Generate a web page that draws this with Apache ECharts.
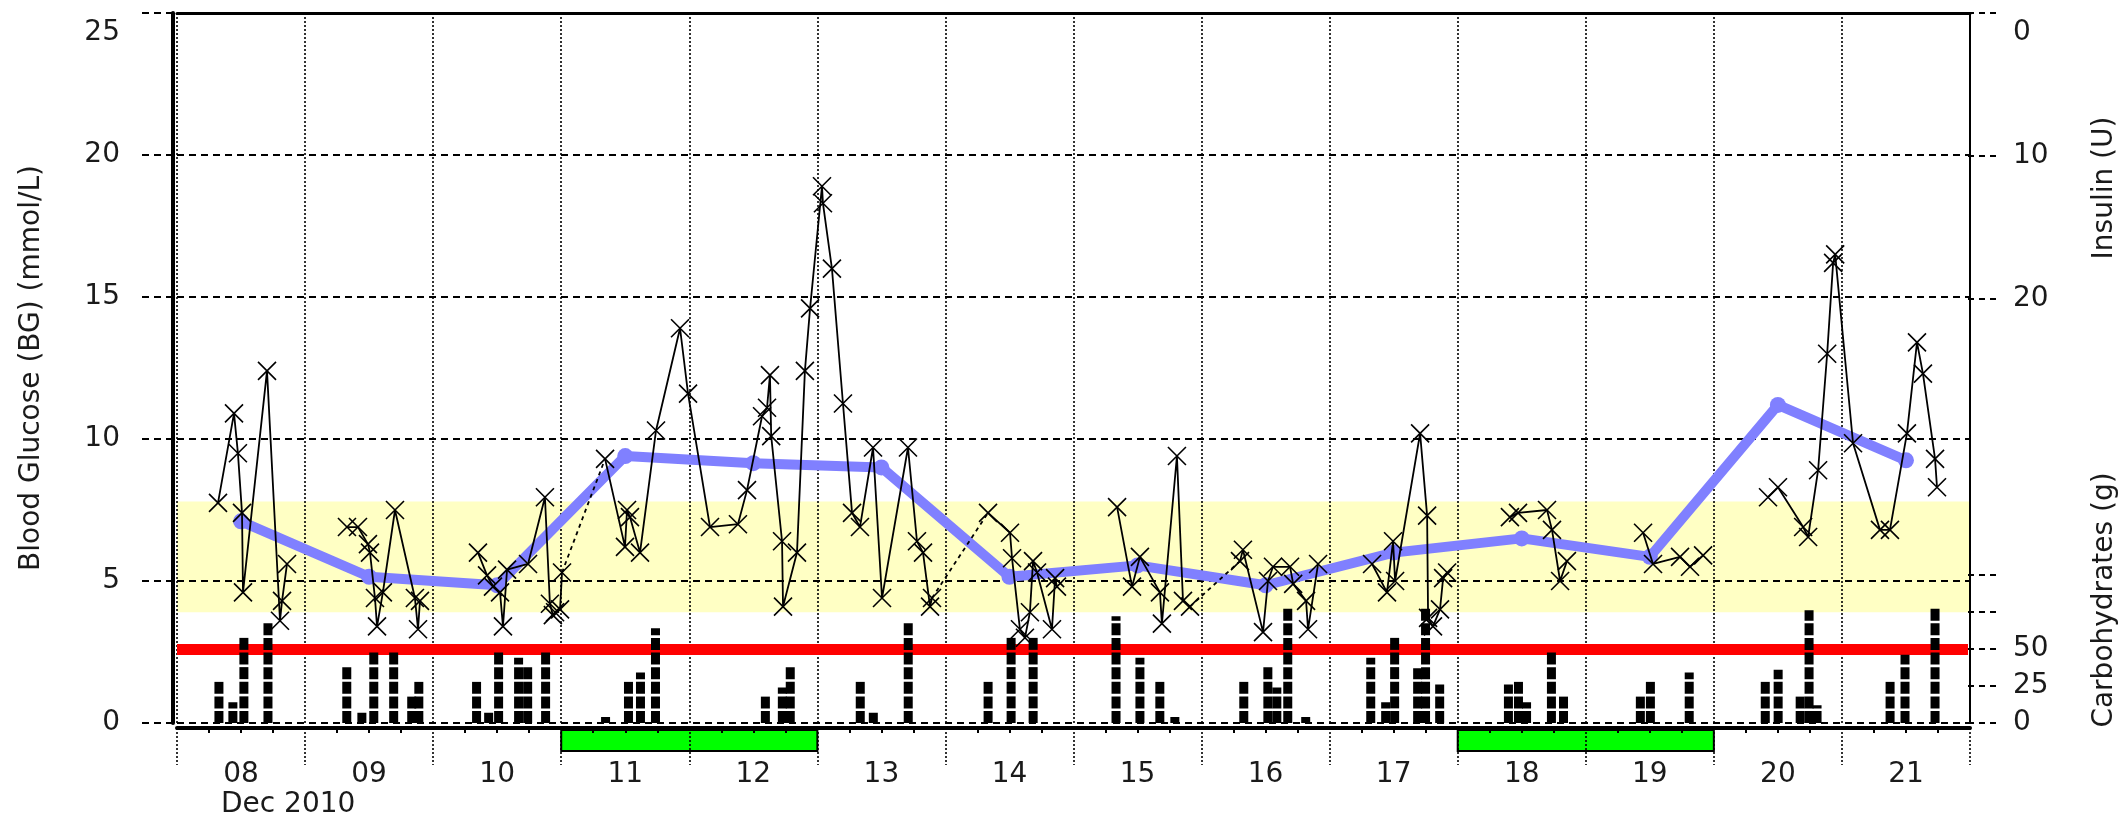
<!DOCTYPE html>
<html><head><meta charset="utf-8">
<script src="https://cdn.jsdelivr.net/npm/echarts@6/dist/echarts.min.js"></script>
<style>html,body{margin:0;padding:0;background:#fff}#c{width:2127px;height:823px}</style>
</head><body><div id="c"></div>
<script>
// ---------- data ----------
const dayLabels = ['08','09','10','11','12','13','14','15','16','17','18','19','20','21'];
const monthLabel = 'Dec 2010';
// blood glucose readings ("DD HH:MM", December 2010); null = gap in the line
const bgTimes = [
'08 07:41','08 10:41','08 11:25','08 12:11','08 12:22','08 16:52','08 19:18','08 19:41','08 20:37', null,
'09 07:51','09 09:55','09 11:47','09 12:10','09 13:06','09 13:29','09 14:35','09 16:51','09 20:35','09 21:10','09 21:32', null,
'10 08:24','10 10:06','10 11:13','10 12:32','10 13:05','10 13:51','10 17:47','10 20:57','10 21:53','10 22:26','10 22:51','10 23:47','11 00:09',
'11 08:13','11 11:57','11 12:20','11 12:53','11 14:46','11 17:46','11 22:16','11 23:46',
'12 03:53','12 09:07','12 10:49','12 13:38','12 14:34','12 15:07','12 15:21','12 17:23','12 17:34','12 20:11','12 21:40','12 22:38',
'13 00:52','13 01:03','13 02:44','13 04:48','13 06:30','13 07:59','13 10:26','13 12:07','13 16:59','13 18:40','13 19:48','13 21:07','13 21:29',
'14 07:59','14 12:06','14 12:29','14 13:58','14 14:54','14 15:50','14 16:25','14 17:10','14 19:58','14 20:33','14 20:54', null,
'15 08:10','15 10:58','15 12:27','15 16:12','15 16:34','15 19:23','15 20:31','15 21:50',
'16 07:12','16 07:45','16 11:31','16 12:27','16 13:23','16 16:35','16 17:10','16 19:35','16 19:57','16 21:50', null,
'17 07:57','17 10:45','17 11:53','17 12:16','17 16:57','17 18:16','17 18:27','17 19:22','17 20:41','17 21:16','17 22:01', null,
'18 09:47','18 11:18','18 16:44','18 17:40','18 19:11','18 20:28', null,
'19 10:44','19 12:36','19 17:40','19 19:32','19 21:59', null,
'20 10:09','20 12:01','20 16:44','20 17:40','20 19:32','20 21:14','20 22:21','20 22:44',
'21 02:05','21 07:08','21 09:00','21 12:11','21 14:04','21 15:11','21 17:27','21 17:49'
];
const bgValues = [
7.75,10.9,9.5,7.4,4.6,12.4,3.6,4.3,5.6,null,
6.9,6.9,6.3,6.0,4.4,3.4,4.6,7.5,4.4,3.3,4.3,null,
6.0,5.2,4.8,4.6,3.4,5.4,5.6,7.95,4.2,3.8,3.9,4.0,5.3,
9.3,6.2,7.5,7.25,6.0,10.3,13.9,11.6,
6.9,7.0,8.2,10.8,11.1,12.25,10.1,6.4,4.1,6.0,12.4,14.6,
18.9,18.3,16.0,11.25,7.4,6.9,9.7,4.4,9.7,6.4,6.0,4.1,4.4,
7.4,6.7,5.8,3.3,3.0,3.9,5.7,5.3,3.3,5.1,4.8,null,
7.6,4.8,5.85,4.6,3.5,9.4,4.3,4.1,
5.7,6.1,3.2,5.0,5.5,5.5,4.9,4.3,3.3,5.6,null,
5.6,4.6,6.4,5.0,10.2,7.3,3.7,3.4,4.0,5.1,5.3,null,
7.25,7.4,7.5,6.8,5.0,5.7,null,
6.7,5.6,5.85,5.5,5.9,null,
7.95,8.3,6.9,6.55,8.9,13.0,16.2,16.5,
9.85,6.8,6.8,10.2,13.4,12.3,9.3,8.3
];
// readings whose joining segment to the next reading is drawn dashed (overnight joins)
const dashedJoins = ['11 00:09','13 21:29','15 21:50'];
// daily average BG
const avgTimes = ['08 12:00','09 12:00','10 12:00','11 12:00','12 12:00','13 12:00','14 12:00','15 12:00','16 12:00','17 12:00','18 12:00','19 12:00','20 12:00','21 12:00'];
const avgValues = [7.1,5.15,4.85,9.4,9.15,9.0,5.15,5.55,4.85,6.0,6.5,5.85,11.2,9.25];
// carbohydrates (g)
const carbTimes = ['08 07:52','08 10:29','08 12:33','08 17:04','09 07:51','09 10:41','09 12:55','09 16:39','09 20:02','09 21:22',
'10 08:12','10 10:28','10 12:20','10 16:05','10 17:47','10 21:09','11 08:24','11 12:42','11 14:57','11 17:46',
'12 14:23','12 17:34','12 19:03','13 08:11','13 10:38','13 17:11','14 08:10','14 12:29','14 16:37',
'15 08:10','15 12:39','15 16:23','15 19:12','16 08:08','16 12:39','16 14:20','16 16:23','16 19:45',
'17 07:57','17 10:45','17 12:26','17 16:45','17 18:14','17 20:53','18 09:47','18 11:40','18 13:11','18 17:51','18 20:07',
'19 10:32','19 12:25','19 19:42','20 09:58','20 12:23','20 16:31','20 18:11','20 19:41','21 09:23','21 12:11','21 17:49'];
const carbValues = [28,14,58,68, 38,7,48,48,18,28, 28,7,48,44,38,48, 4,28,34,64, 18,24,38, 28,7,68, 28,58,58,
72,44,28,4, 28,38,24,78,4, 44,14,58,37,78,26, 26,28,14,48,18, 18,28,34, 28,36,18,76,12, 28,46,78];
const weekendStarts = ['11','18'];
const weekendLength = 2;
const targetRange = [3.9, 7.8];
const carbRefLine = 50;
const insulinTicks = [0,10,20];
const carbTickMarks = [0,25,50,75,100];
const carbTickLabels = [0,25,50];

// ---------- helpers ----------
const FIRST_DAY = 8;
function toDay(s){ // 'DD HH:MM' -> days since Dec 08 00:00
  const dd = parseInt(s.slice(0,2),10), hh = parseInt(s.slice(3,5),10), mm = parseInt(s.slice(6,8),10);
  return (dd - FIRST_DAY) + (hh*60+mm)/1440;
}
const bgSolid = [], bgDashed = [];
bgTimes.forEach((t,i)=>{
  if (t===null){ bgSolid.push(['-','-']); return; }
  const p = [toDay(t), bgValues[i]];
  bgSolid.push(p);
  if (dashedJoins.indexOf(t) >= 0 && bgTimes[i+1]){
    bgSolid.push(['-','-']);
    bgDashed.push(p, [toDay(bgTimes[i+1]), bgValues[i+1]], ['-','-']);
  }
});
const avgData = avgTimes.map((t,i)=> [toDay(t), avgValues[i]]);
const carbData = carbTimes.map((t,i)=> [toDay(t), carbValues[i]]);
const nDays = dayLabels.length;
const labelPos = dayLabels.map((d,i)=> i+0.5);

const FONT = 'DejaVu Sans';
const TXT = '#1a1a1a';
const L = 177, R = 157;
const hiddenX = (g)=>({type:'value', gridIndex:g, min:0, max:nDays, show:false});
const xCross = 'path://M0,0L10,10M10,0L0,10';
const richTop = {top:{fontSize:28, fontFamily:FONT, color:TXT, padding:[40,0,0,0]}};

const chart = echarts.init(document.getElementById('c'), null, {renderer:'canvas'});
chart.setOption({
  animation:false,
  backgroundColor:'#fff',
  textStyle:{fontFamily:FONT},
  title:{text:monthLabel, left:221, top:791, padding:0,
    textStyle:{fontSize:28, fontWeight:'normal', fontFamily:FONT, color:TXT}},
  grid:[
    {left:L, right:R, top:13, height:710},   // BG
    {left:L, right:R, top:13, height:350},   // insulin
    {left:L, right:R, top:477, height:246},  // carbs
    {left:L, right:R, top:730, height:21}    // weekends
  ],
  xAxis:[
    {type:'value', gridIndex:0, min:0, max:nDays, interval:1, offset:5, position:'bottom',
      axisLine:{show:true, onZero:false, lineStyle:{color:'#000', width:4}},
      axisTick:{show:true, length:37, lineStyle:{color:'#000', width:1.6, type:[2,2]}},
      minorTick:{show:true, splitNumber:4, length:5, lineStyle:{color:'#000', width:2}},
      splitLine:{show:true, lineStyle:{color:'#000', width:1.6, type:[2,2]}},
      axisLabel:{customValues:labelPos, formatter:(v)=>dayLabels[Math.floor(v)], margin:33,
        fontSize:28, fontFamily:FONT, color:TXT}},
    {type:'value', gridIndex:0, min:0, max:nDays, position:'top',
      axisLine:{show:true, onZero:false, lineStyle:{color:'#000', width:3}},
      axisTick:{show:false}, axisLabel:{show:false}, splitLine:{show:false}},
    hiddenX(1), hiddenX(2), hiddenX(3)
  ],
  yAxis:[
    {type:'value', gridIndex:0, min:0, max:25, interval:5, position:'left', offset:4,
      axisLine:{show:true, onZero:false, lineStyle:{color:'#000', width:4}},
      axisTick:{show:true, length:36, lineStyle:{color:'#000', width:2, type:[7,5]}},
      splitLine:{show:true, lineStyle:{color:'#000', width:2, type:[7,5]}},
      axisLabel:{margin:53, fontSize:28, fontFamily:FONT, color:TXT,
        formatter:(v)=> v===25 ? '{top|25}' : String(v), rich:richTop},
      name:'Blood Glucose (BG) (mmol/L)', nameLocation:'middle', nameRotate:90, nameGap:127,
      nameTextStyle:{fontSize:28, fontFamily:FONT, color:TXT}},
    {type:'value', gridIndex:0, min:0, max:25, position:'right',
      axisLine:{show:true, onZero:false, lineStyle:{color:'#000', width:2}},
      axisTick:{show:false}, axisLabel:{show:false}, splitLine:{show:false}},
    {type:'value', gridIndex:1, min:0, max:24.5, inverse:true, position:'right',
      axisLine:{show:false, onZero:false},
      axisTick:{show:true, customValues:insulinTicks, length:32, lineStyle:{color:'#000', width:2, type:[6,5]}},
      axisLabel:{customValues:insulinTicks, margin:45, fontSize:28, fontFamily:FONT, color:TXT,
        formatter:(v)=> v===0 ? '{top|0}' : String(v), rich:richTop},
      splitLine:{show:false},
      name:'Insulin (U)', nameLocation:'middle', nameRotate:90, nameGap:123,
      nameTextStyle:{fontSize:28, fontFamily:FONT, color:TXT}},
    {type:'value', gridIndex:2, min:0, max:166, position:'right',
      axisLine:{show:false, onZero:false},
      axisTick:{show:true, customValues:carbTickMarks, length:32, lineStyle:{color:'#000', width:2, type:[6,5]}},
      axisLabel:{customValues:carbTickLabels, margin:45, fontSize:28, fontFamily:FONT, color:TXT},
      splitLine:{show:false},
      name:'Carbohydrates (g)', nameLocation:'middle', nameRotate:90, nameGap:123,
      nameTextStyle:{fontSize:28, fontFamily:FONT, color:TXT}},
    {type:'value', gridIndex:3, min:0, max:1, show:false}
  ],
  series:[
    { // target band
      type:'line', xAxisIndex:0, yAxisIndex:0, data:[], silent:true, z:-1,
      markArea:{silent:true, z:-1, itemStyle:{color:'#ffffc4'},
        data:[[{coord:[0,targetRange[0]]},{coord:[nDays,targetRange[1]]}]]}
    },
    { // weekend bars
      type:'line', xAxisIndex:4, yAxisIndex:4, data:[], silent:true, z:-1,
      markArea:{silent:true, z:-1, itemStyle:{color:'#00ff00', borderColor:'#000', borderWidth:2},
        data: weekendStarts.map(d=>{const s=parseInt(d,10)-FIRST_DAY; return [{coord:[s,0]},{coord:[s+weekendLength,1]}];})}
    },
    { // carbohydrates
      type:'pictorialBar', xAxisIndex:3, yAxisIndex:3, data:carbData, z:2,
      symbol:'rect', symbolSize:[9,12], symbolRepeat:true, symbolMargin:1.5, symbolClip:true,
      symbolBoundingData:166, itemStyle:{color:'#000'},
      markLine:{silent:true, z:1, symbol:['none','none'], label:{show:false},
        lineStyle:{color:'#ff0000', width:11, type:'solid'}, data:[{yAxis:carbRefLine}]}
    },
    { // daily average
      type:'line', xAxisIndex:0, yAxisIndex:0, data:avgData, z:3,
      symbol:'circle', symbolSize:16, showAllSymbol:true,
      lineStyle:{color:'#8080ff', width:10}, itemStyle:{color:'#8080ff'}
    },
    { // overnight joins (dashed)
      type:'line', xAxisIndex:0, yAxisIndex:0, data:bgDashed, z:4, connectNulls:false,
      symbol:'none', lineStyle:{color:'#000', width:1.8, type:[4,4]}
    },
    { // BG readings
      type:'line', xAxisIndex:0, yAxisIndex:0, data:bgSolid, z:4, connectNulls:false,
      symbol:xCross, symbolSize:18, showAllSymbol:true,
      lineStyle:{color:'#000', width:1.8},
      itemStyle:{color:'rgba(0,0,0,0)', borderColor:'#000', borderWidth:1.6}
    }
  ]
});
</script></body></html>
